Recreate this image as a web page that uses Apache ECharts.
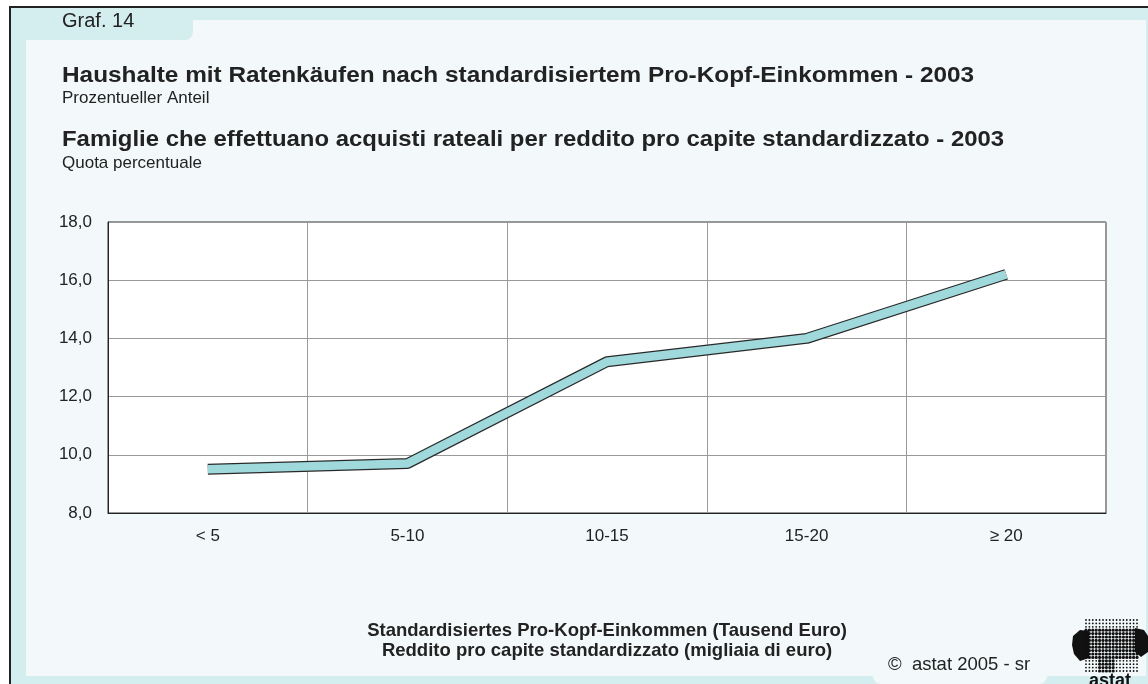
<!DOCTYPE html>
<html>
<head>
<meta charset="utf-8">
<script src="https://cdn.jsdelivr.net/npm/echarts@6/dist/echarts.min.js"></script>
<style>
html,body{margin:0;padding:0;background:#fff;}
#c{width:1148px;height:684px;}
</style>
</head>
<body>
<div id="c"></div>
<script>
var categories = ['< 5', '5-10', '10-15', '15-20', '\u2265 20'];
var values = [9.5, 9.7, 13.2, 14.0, 16.2];
var yTicks = { min: 8, max: 18, interval: 2 };

var FONT = '"Liberation Sans", Arial, sans-serif';
var TXT = '#222';
var TEAL = '#d4eef0';
var INNER = '#f3f9fa';

// logo dots (decoration only)
var logo = [];
for (var i = 0; i < 16; i++) {
  for (var j = 0; j < 16; j++) {
    var cx = 1086 + i * 3.4, cy = 620 + j * 3.4;
    var inBody = (cy > 627 && cy < 660 && cx < 1138) || (cy >= 660 && cx > 1097 && cx < 1116);
    logo.push({ type: 'circle', z: 5, shape: { cx: cx, cy: cy, r: inBody ? 1.6 : 0.9 }, style: { fill: '#111' } });
  }
}

function txt(x, y, s, font, sx, extra) {
  var st = { x: 0, y: 0, text: s, font: font, fill: TXT, verticalAlign: 'middle' };
  if (extra) for (var k in extra) st[k] = extra[k];
  return { type: 'text', x: x, y: y, scaleX: sx || 1, z: 10, style: st };
}

var chart = echarts.init(document.getElementById('c'));
chart.setOption({
  animation: false,
  backgroundColor: '#fff',
  graphic: [
    { type: 'rect', z: -100, shape: { x: 9, y: 6, width: 1139, height: 678 }, style: { fill: '#222' } },
    { type: 'rect', z: -99, shape: { x: 11, y: 8, width: 1137, height: 676 }, style: { fill: TEAL } },
    { type: 'rect', z: -98, shape: { x: 26, y: 20, width: 1120, height: 656 }, style: { fill: INNER } },
    { type: 'rect', z: -97, shape: { x: 11, y: 8, width: 182, height: 32, r: [0, 0, 8, 0] }, style: { fill: TEAL } },
    { type: 'rect', z: -97, shape: { x: 873, y: 640, width: 174, height: 44, r: [0, 0, 8, 8] }, style: { fill: INNER } },
    txt(62, 21, 'Graf. 14', '20px ' + FONT),
    txt(62, 76, 'Haushalte mit Ratenkäufen nach standardisiertem Pro-Kopf-Einkommen - 2003', 'bold 22px ' + FONT, 1.107),
    txt(62, 98, 'Prozentueller Anteil', '17px ' + FONT),
    txt(62, 140, 'Famiglie che effettuano acquisti rateali per reddito pro capite standardizzato - 2003', 'bold 22px ' + FONT, 1.087),
    txt(62, 163, 'Quota percentuale', '17px ' + FONT),
    txt(888, 665, '\u00a9  astat 2005 - sr', '18.5px ' + FONT),
    { type: 'polygon', z: 4, shape: { points: [[1073,636],[1080,630],[1089,631],[1089,658],[1080,661],[1074,654],[1072,645]] }, style: { fill: '#111' } },
    { type: 'polygon', z: 4, shape: { points: [[1135,628],[1144,630],[1148,636],[1148,652],[1141,657],[1135,652]] }, style: { fill: '#111' } },
    { type: 'group', children: logo },
    { type: 'text', z: 6, style: { x: 1110, y: 681, text: 'astat', font: 'bold 18px ' + FONT, fill: '#111', align: 'center', verticalAlign: 'middle' } }
  ],
  grid: {
    left: 108, right: 42, top: 222, bottom: 171,
    show: true, backgroundColor: '#fff', borderColor: '#333', borderWidth: 1
  },
  xAxis: {
    type: 'category',
    data: categories,
    boundaryGap: true,
    axisLine: { lineStyle: { color: '#222', width: 1 } },
    axisTick: { show: false },
    axisLabel: { color: TXT, fontFamily: FONT, fontSize: 17, margin: 15 },
    splitLine: { show: true, lineStyle: { color: '#999', width: 1 } },
    name: 'Standardisiertes Pro-Kopf-Einkommen (Tausend Euro)\nReddito pro capite standardizzato (migliaia di euro)',
    nameLocation: 'middle',
    nameGap: 108,
    nameTextStyle: { color: TXT, fontFamily: FONT, fontSize: 18.5, fontWeight: 'bold', lineHeight: 20 }
  },
  yAxis: {
    type: 'value',
    min: yTicks.min, max: yTicks.max, interval: yTicks.interval,
    axisLine: { show: true, lineStyle: { color: '#222', width: 1 } },
    axisTick: { show: false },
    axisLabel: { color: TXT, fontFamily: FONT, fontSize: 17, margin: 16,
      formatter: function (v) { return v.toFixed(1).replace('.', ','); } },
    splitLine: { show: true, lineStyle: { color: '#999', width: 1 } }
  },
  series: [
    { type: 'line', data: values, symbol: 'none', z: 3,
      lineStyle: { color: '#2a2a2a', width: 11, cap: 'butt', join: 'bevel' } },
    { type: 'line', data: values, symbol: 'none', z: 4,
      lineStyle: { color: '#9fd9dc', width: 8.5, cap: 'butt', join: 'bevel' } }
  ]
});
</script>
</body>
</html>
